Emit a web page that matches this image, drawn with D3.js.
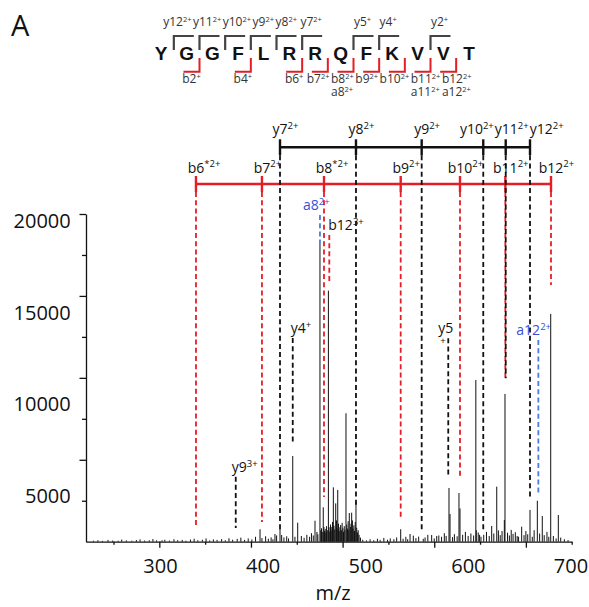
<!DOCTYPE html>
<html>
<head>
<meta charset="utf-8">
<script src="https://cdn.jsdelivr.net/npm/d3@7"></script>
<style>
body { margin: 0; background: #fff; }
svg { display: block; font-family: "Open Sans", "Noto Sans", sans-serif; }
</style>
</head>
<body>
<svg id="chart" width="589" height="607"></svg>
<script>
// peptide sequence + fragment map
const sequence = ["Y","G","G","F","L","R","R","Q","F","K","V","V","T"];
const yCuts = [1, 2, 3, 4, 5, 6, 8, 9, 11];
const yCutNames = ["y12","y11","y10","y9","y8","y7","y5","y4","y2"];
const yCutCharges = ["2+","2+","2+","2+","2+","2+","+","+","+"];
const bCuts = [2, 4, 6, 7, 8, 9, 10, 11, 12];
const bCutNames = ["b2","b4","b6","b7","b8","b9","b10","b11","b12"];
const bCutCharges = ["+","+","+","2+","2+","2+","2+","2+","2+"];
const aCutNames = [null, null, null, null, "a8", null, null, "a11", "a12"];

// ion ladders on the spectrum (m/z, intensity where the dashed line stops)
const yLadderNames = ["y7","y8","y9","y10","y11","y12"];
const yLadderMz = [431.7, 514.6, 586.3, 653.5, 678.0, 704.5];
const yLadderEnd = [720, 2060, 720, 720, 9980, 2670];
const bLadderNames = ["b6","b7","b8","b9","b10","b11","b12"];
const bLadderCharges = ["*2+","2+","*2+","2+","2+","2+","2+"];
const bLadderMz = [340.0, 412.0, 479.7, 563.4, 628.1, 677.6, 727.4];
const bLadderEnd = [840, 1200, 2730, 1450, 3950, 9980, 15670];

// single annotated ions: dashed from "top" down to "end"
const otherIons = [
    { name: "y9",  charge: "3+", mz: 383.4, top: 3970,  end: 840,   kind: "y" },
    { name: "y4",  charge: "+",  mz: 445.6, top: 12430, end: 6100,  kind: "y" },
    { name: "y5",  charge: "+",  mz: 615.3, top: 12410, end: 3970,  kind: "y", wrap: true },
    { name: "b12", charge: "3+", mz: 485.5, top: 18720, end: 15870, kind: "b" },
    { name: "a8",  charge: "2+", mz: 475.3, top: 19940, end: 18230, kind: "a" },
    { name: "a12", charge: "2+", mz: 713.6, top: 12310, end: 2950,  kind: "a" }
];
const otherLabelDx = [-4, -2, -10, -1, -17, -22];

// stick spectrum [m/z, intensity]
const spectrum = [
    [475.3,18230],[484.5,15320],[727.1,13900],[677.2,9020],[645.4,9870],[503.7,7840],
    [445.6,5230],[616.1,3280],[617.2,1690],[627.0,2970],[628.1,2030],[668.2,3360],
    [489.9,3320],[494.7,3160],[492.5,2340],[514.6,2380],[712.5,2500],[704.5,1940],
    [717.9,1570],[735.4,1630],[451.0,1160],[469.9,1280],[478.9,2100],[507.3,1750],
    [509.9,1770],[497.9,1020],[662.7,960],[676.5,1320],[563.4,760],[409.9,760],
    [431.7,775],[695.4,915],[426.2,470],[433.5,410],[573.6,470],[577.2,370],
    [597.2,410],[602.7,350],[645.9,700],[649.5,420],[670.0,690],[686.0,480],
    [688.5,580],[690.5,350],[692.0,300],
    [228,60],[233,90],[238,50],[244,110],[249,70],[255,60],[259,130],[264,80],
    [270,60],[275,100],[279,140],[284,70],[289,90],[293,160],[297,80],
    [303,90],[306,120],[311,70],[316,150],[320,90],[325,110],[329,60],[334,130],
    [338,180],[342,90],[347,120],[351,200],[355,80],[359,140],[363,110],[368,160],
    [372,90],[376,210],[380,120],[385,170],[389,250],[393,110],[397,200],[401,140],
    [405,300],[412,220],[416,330],[419,180],[422,260],[424,150],[428,380],[436,260],
    [439,330],[441,200],[448,300],[455,350],[458,240],[461,420],[464,300],[466,520],
    [468,380],[472,600],[473,450],
    [476.2,700],[477.0,820],[477.8,600],[479.6,900],[480.3,650],[481.0,780],[481.8,560],
    [482.5,950],[483.3,700],[485.2,880],[486.0,620],[486.8,1050],[487.5,700],[488.3,900],
    [489.0,1200],[490.6,980],[491.4,750],[493.3,1300],[494.0,800],[495.5,1100],[496.3,650],
    [497.1,880],[498.7,700],[499.5,1150],[500.3,820],[501.0,600],[501.8,950],[502.6,720],
    [504.5,1050],[505.3,800],[506.1,1250],[506.8,700],[508.5,900],[509.2,1100],[510.7,1300],
    [511.5,800],[512.3,1000],[513.0,650],[513.8,1200],[515.4,850],[516.2,560],[517.0,700],
    [518.0,420],[519.5,250],
    [522,120],[526,80],[530,150],[534,90],[538,180],[541,110],[545,230],[549,120],
    [552,200],[556,150],[559,260],[566,180],[569,300],[571,150],[580,220],[583,310],
    [588,180],[590,260],[593,420],[600,200],[605,380],[608,300],[611,520],[613,350],
    [620,280],[622,460],[625,330],[631,420],[634,600],[637,350],[640,500],[643,380],
    [648,560],[651,300],[654,420],[657,600],[660,350],[665,500],[672,400],[674,650],
    [680,550],[682,380],[684,720],[698,400],[700,650],[702,450],[707,300],[709,700],
    [715,500],[720,400],[723,600],[725,300],[730,350],[733,200],[738,250],[742,150],[746,100]
];

const xMajorTicks = [300, 400, 500, 600, 700];
const xMinorTicks = [250, 350, 450, 550, 650, 750];
const yMajorTicks = [5000, 10000, 15000, 20000];
const yMinorTicks = [2500, 7500, 12500, 17500];
const xTickLabels = [300, 400, 500, 600, 700];
const yTickLabels = [5000, 10000, 15000, 20000];

const layout = { left: 86, right: 571.7, top: 214, bottom: 541.7, yBar: 147.3, bBar: 184 };
const colors = { ink: "#111", red: "#e41e26", blue: "#4a7be6", blueText: "#3a4fd4", grey: "#333" };

const svg = d3.select("#chart");
const x = d3.scaleLinear().domain([220, 750]).range([layout.left, layout.right]);
const y = d3.scaleLinear().domain([0, 20000]).range([layout.bottom, layout.top]);
// printed tick labels sit on their own (stretched) spacing in the figure
const xLabelScale = d3.scaleLinear().domain([300, 700]).range([160, 570.5]);
const yLabelScale = d3.scaleLinear().domain([5000, 20000]).range([496, 221]);

function addLabel(g, main, sup, size, supSize, color) {
    const t = g.append("text").attr("fill", color).style("font-size", size + "px");
    t.append("tspan").attr("class", "main").text(main);
    if (sup) t.append("tspan").attr("dy", -size * 0.36).style("font-size", supSize + "px").text(sup);
    return t;
}

function spreadOut(items, pad) {
    items.sort((a, b) => a.x - b.x);
    for (let k = 0; k < 400; k++) {
        let moved = false;
        for (let i = 0; i < items.length - 1; i++) {
            const a = items[i], b = items[i + 1];
            const ov = a.x + a.w + pad - b.x;
            if (ov > 0.01) { a.x -= ov / 2; b.x += ov / 2; moved = true; }
        }
        if (!moved) break;
    }
}

// panel letter
svg.append("text").attr("x", 11).attr("y", 36).style("font-size", "29px").attr("fill", "#111").text("A");

// ---- sequence with fragment brackets ----
const seqX = d3.scalePoint().domain(d3.range(sequence.length)).range([161, 469]);
const gapX = i => (seqX(i - 1) + seqX(i)) / 2;
const seqG = svg.append("g");

seqG.selectAll(".res").data(sequence).join("text")
    .attr("x", (d, i) => seqX(i)).attr("y", 60).attr("text-anchor", "middle")
    .style("font-family", "'Liberation Sans', Arial, sans-serif").style("font-weight", "bold")
    .style("font-size", "19px").attr("fill", "#111").text(d => d);

seqG.selectAll(".ybr").data(yCuts).join("path")
    .attr("d", c => `M${gapX(c)},50V36H${gapX(c) + 20}`)
    .attr("fill", "none").attr("stroke", "#444").attr("stroke-width", 2.2);

seqG.selectAll(".bbr").data(bCuts).join("path")
    .attr("d", c => `M${gapX(c)},58V71.7H${gapX(c) - 16}`)
    .attr("fill", "none").attr("stroke", colors.red).attr("stroke-width", 2);

const topItems = yCuts.map((c, i) => {
    const t = addLabel(seqG, yCutNames[i], yCutCharges[i], 12, 7.5, colors.grey).attr("y", 26);
    const w = t.node().getComputedTextLength();
    return { t, w, x: gapX(c) + 9 - w / 2 };
});
spreadOut(topItems, 1.5);
topItems.forEach(d => d.t.attr("x", d.x));

const botItems = bCuts.map((c, i) => {
    const t = addLabel(seqG, bCutNames[i], bCutCharges[i], 12, 7.5, colors.grey).attr("y", 83);
    const w = t.node().getComputedTextLength();
    return { t, w, x: gapX(c) - 8 - w / 2, a: aCutNames[i] };
});
spreadOut(botItems, 1.5);
botItems.forEach(d => {
    d.t.attr("x", d.x);
    if (d.a) addLabel(seqG, d.a, "2+", 12, 7.5, colors.grey).attr("x", d.x).attr("y", 96);
});

// ---- axes ----
const axisG = svg.append("g").attr("transform", `translate(0,${layout.bottom})`);
axisG.call(d3.axisBottom(x).tickValues(xMajorTicks).tickSize(6).tickSizeOuter(0).tickFormat(""));
axisG.append("g").call(d3.axisBottom(x).tickValues(xMinorTicks).tickSize(3).tickSizeOuter(0).tickFormat(""))
    .select(".domain").remove();
const yAxisG = svg.append("g").attr("transform", `translate(${layout.left},0)`);
yAxisG.call(d3.axisLeft(y).tickValues(yMajorTicks).tickSize(6.5).tickSizeOuter(0).tickFormat(""));
yAxisG.append("g").call(d3.axisLeft(y).tickValues(yMinorTicks).tickSize(4).tickSizeOuter(0).tickFormat(""))
    .select(".domain").remove();
svg.selectAll(".domain, .tick line").attr("stroke", "#111").attr("stroke-width", 1.3);

const xLab = svg.append("g").attr("transform", `translate(0,${layout.bottom})`)
    .call(d3.axisBottom(xLabelScale).tickValues(xTickLabels).tickSize(0).tickPadding(17).tickFormat(d3.format("d")));
const yLab = svg.append("g").attr("transform", `translate(${layout.left},0)`)
    .call(d3.axisLeft(yLabelScale).tickValues(yTickLabels).tickSize(0).tickPadding(15.3).tickFormat(d3.format("d")));
[xLab, yLab].forEach(g => {
    g.select(".domain").remove();
    g.selectAll("text").style("font-size", "20px").style("font-family", "'Open Sans', sans-serif").attr("fill", "#111");
});

svg.append("text").attr("x", 333).attr("y", 600).attr("text-anchor", "middle")
    .style("font-size", "20px").attr("fill", "#111").text("m/z");

// ---- peaks ----
svg.append("g").selectAll("line").data(spectrum).join("line")
    .attr("x1", d => x(d[0])).attr("x2", d => x(d[0]))
    .attr("y1", y(0)).attr("y2", d => y(d[1]))
    .attr("stroke", colors.ink).attr("stroke-width", 1);

// ---- ion ladders ----
const dash = "5,3.2";
const annG = svg.append("g");

function ladder(names, charges, mz, ends, barY, color, labelDy) {
    annG.selectAll(null).data(mz).join("line")
        .attr("x1", d => x(d)).attr("x2", d => x(d))
        .attr("y1", barY + 8).attr("y2", (d, i) => y(ends[i]))
        .attr("stroke", color).attr("stroke-width", 1.8).attr("stroke-dasharray", dash);
    annG.append("line").attr("x1", x(d3.min(mz))).attr("x2", x(d3.max(mz)))
        .attr("y1", barY).attr("y2", barY).attr("stroke", color).attr("stroke-width", 2.6);
    annG.selectAll(null).data(mz).join("line")
        .attr("x1", d => x(d)).attr("x2", d => x(d))
        .attr("y1", barY - 8).attr("y2", barY + 8)
        .attr("stroke", color).attr("stroke-width", 2.4);
    const items = names.map((n, i) => {
        const t = addLabel(annG, n, charges[i], 14, 9.5, "#111").attr("y", barY + labelDy);
        const mw = t.select(".main").node().getComputedTextLength();
        const w = t.node().getComputedTextLength();
        return { t, w, x: x(mz[i]) - mw / 2 };
    });
    spreadOut(items, 1);
    items.forEach(d => d.t.attr("x", d.x));
}

ladder(bLadderNames, bLadderCharges, bLadderMz, bLadderEnd, layout.bBar, colors.red, -11.5);
ladder(yLadderNames, yLadderNames.map(() => "2+"), yLadderMz, yLadderEnd, layout.yBar, "#111", -13.5);

otherIons.forEach((d, i) => {
    const c = d.kind === "b" ? colors.red : d.kind === "a" ? colors.blue : "#111";
    const tc = d.kind === "a" ? colors.blueText : "#111";
    annG.append("line").attr("x1", x(d.mz)).attr("x2", x(d.mz))
        .attr("y1", y(d.top)).attr("y2", y(d.end))
        .attr("stroke", c).attr("stroke-width", 1.8).attr("stroke-dasharray", dash);
    const lx = x(d.mz) + otherLabelDx[i], ly = y(d.top) - 5;
    if (d.wrap) {
        addLabel(annG, d.name, null, 14, 9.5, tc).attr("x", lx).attr("y", ly);
        annG.append("text").attr("x", lx + 2).attr("y", ly + 11).style("font-size", "9.5px").attr("fill", tc).text(d.charge);
    } else {
        addLabel(annG, d.name, d.charge, 14, 9.5, tc).attr("x", lx).attr("y", ly);
    }
});
</script>
</body>
</html>
